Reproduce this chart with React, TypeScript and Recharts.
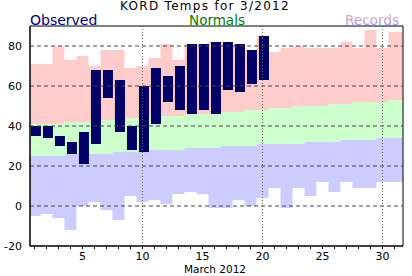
import React from 'react';
import { ComposedChart, Area, Bar, XAxis, YAxis, ReferenceLine, ReferenceArea } from 'recharts';

const days = [1, 2, 3, 4, 5, 6, 7, 8, 9, 10, 11, 12, 13, 14, 15, 16, 17, 18, 19, 20, 21, 22, 23, 24, 25, 26, 27, 28, 29, 30, 31];
const obsHigh = [40, 40, 35, 32, 37, 68, 68, 63, 40, 60, 69, 65, 70, 81, 81, 82, 82, 81, 78, 85];
const obsLow = [35, 34, 30, 26, 21, 31, 54, 37, 28, 27, 41, 52, 48, 46, 48, 46, 58, 57, 61, 63];
const normHigh = [41, 41, 41, 42, 42, 42, 43, 43, 44, 44, 45, 45, 45, 46, 46, 46, 47, 47, 48, 48, 49, 49, 50, 50, 50, 51, 51, 52, 52, 52, 53];
const normLow = [25, 25, 25, 26, 26, 26, 26, 27, 27, 27, 28, 28, 28, 29, 29, 29, 30, 30, 30, 31, 31, 31, 31, 32, 32, 32, 33, 33, 33, 34, 34];
const recHigh = [71, 71, 80, 73, 75, 70, 78, 78, 69, 70, 74, 81, 73, 81, 81, 82, 82, 81, 78, 85, 77, 79, 80, 79, 79, 79, 82, 79, 88, 79, 87];
const recLow = [-5, -4, -6, -12, 0, 2, -2, -7, 5, 2, 3, 1, 6, 7, 6, -1, -1, 3, 0, 4, 9, -1, 9, 5, 12, 7, 12, 9, 9, 12, 12];
const xTickLabels = [5, 10, 15, 20, 25, 30];
const yTicks = [-20, 0, 20, 40, 60, 80];
const gridY = [0, 20, 40, 60, 80];
const gridX = [10, 20, 30];

const FONT = '"DejaVu Sans", Verdana, sans-serif';

type Row = {
  day: number;
  pink: [number, number];
  green: [number, number];
  blue: [number, number];
  obs: [number, number] | null;
};

const rowFor = (day: number, i: number, withObs: boolean): Row => ({
  day,
  pink: [normHigh[i], recHigh[i]],
  green: [normLow[i], normHigh[i]],
  blue: [recLow[i], normLow[i]],
  obs: withObs && i < obsHigh.length ? [obsLow[i], obsHigh[i]] : null,
});

const data: Row[] = [
  rowFor(0, 0, false),
  ...days.map((d, i) => rowFor(d, i, true)),
  rowFor(32, days.length - 1, false),
];

const ObsShape = (p: any) => {
  if (!p.payload || p.payload.obs == null || !p.height) return <g />;
  return <rect x={p.x + 1.5} y={p.y} width={p.width} height={p.height} fill="#000066" />;
};

export default function App() {
  return (
    <div style={{ position: 'absolute', left: 0, top: 0, width: 412, height: 276, background: '#fff' }}>
      <ComposedChart
        width={412}
        height={276}
        data={data}
        margin={{ top: 26, right: 9, bottom: 0, left: 0 }}
        style={{ position: 'absolute', left: 0, top: 0 }}
      >
        <XAxis
          type="number"
          dataKey="day"
          domain={[0.63, 31.71]}
          allowDataOverflow
          ticks={days}
          interval={0}
          height={30}
          tickSize={3}
          tickMargin={3}
          tickFormatter={(v: number) => (xTickLabels.includes(v) ? String(v) : '')}
          axisLine={{ stroke: '#000' }}
          tickLine={{ stroke: '#000' }}
          tick={{ fontSize: 11, fill: '#000', fontFamily: FONT }}
        />
        <YAxis
          type="number"
          domain={[-20, 90]}
          allowDataOverflow
          ticks={yTicks}
          interval={0}
          width={30}
          tickLine={false}
          axisLine={{ stroke: '#000' }}
          tick={{ fontSize: 11, fill: '#000', fontFamily: FONT }}
        />
        <Area type="step" dataKey="pink" stroke="none" fill="#FFCCCC" fillOpacity={1} isAnimationActive={false} activeDot={false} dot={false} />
        <Area type="step" dataKey="green" stroke="none" fill="#CCFFCC" fillOpacity={1} isAnimationActive={false} activeDot={false} dot={false} />
        <Area type="step" dataKey="blue" stroke="none" fill="#CCCCFF" fillOpacity={1} isAnimationActive={false} activeDot={false} dot={false} />
        <Bar dataKey="obs" barSize={10} fill="#000066" shape={ObsShape} isAnimationActive={false} />
        {gridY.map((v) => (
          <ReferenceLine key={'y' + v} y={v} stroke="#444" strokeDasharray="4 3" />
        ))}
        {gridX.map((v) => (
          <ReferenceLine key={'x' + v} x={v} stroke="#666" strokeDasharray="1 2" />
        ))}
        <ReferenceArea x1={0.63} x2={31.71} y1={-20} y2={90} fill="none" fillOpacity={0} stroke="#000" strokeOpacity={1} />
      </ComposedChart>
      <svg width={412} height={276} style={{ position: 'absolute', left: 0, top: 0, pointerEvents: 'none' }}>
        <defs>
          <linearGradient id="recGrad" x1="0" y1="0" x2="0" y2="1">
            <stop offset="0" stopColor="#FF9999" />
            <stop offset="0.4" stopColor="#FF9FB0" />
            <stop offset="0.6" stopColor="#A0A0FF" />
            <stop offset="1" stopColor="#9999FF" />
          </linearGradient>
        </defs>
        <text x={205} y={10} textAnchor="middle" fontSize={12} letterSpacing={1.3} fontFamily={FONT} fill="#000">
          KORD Temps for 3/2012
        </text>
        <text x={30} y={24.5} textAnchor="start" fontSize={14} fontFamily={FONT} fill="#000080">
          Observed
        </text>
        <text x={217} y={24.5} textAnchor="middle" fontSize={13.5} fontFamily={FONT} fill="#008000">
          Normals
        </text>
        <text x={399} y={24.5} textAnchor="end" fontSize={13.6} fontFamily={FONT} fill="url(#recGrad)">
          Records
        </text>
        <text x={215} y={272.5} textAnchor="middle" fontSize={10.5} fontFamily={FONT} fill="#000">
          March 2012
        </text>
      </svg>
    </div>
  );
}
